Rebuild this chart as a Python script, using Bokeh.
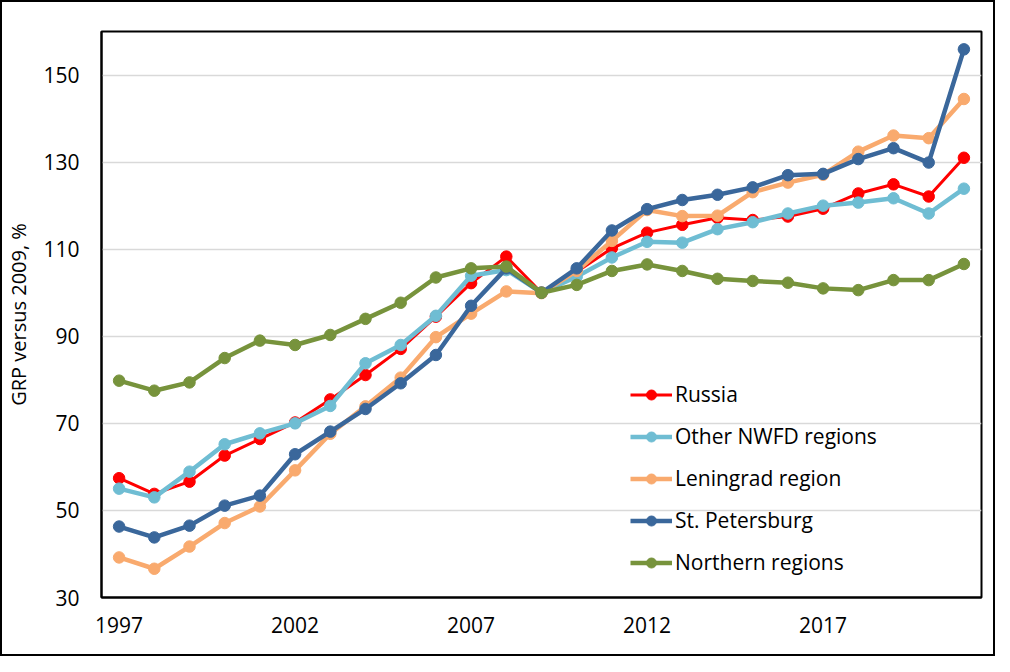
from bokeh.plotting import figure
from bokeh.models import Range1d, FixedTicker, Legend, LegendItem
from bokeh.embed import file_html
from bokeh.resources import INLINE

years = list(range(1997, 2022))

russia = [57.4, 53.8, 56.6, 62.6, 66.4, 70.2, 75.5, 81.1, 87.1, 94.5, 102.2, 108.3, 100.0,
          104.8, 110.2, 113.8, 115.6, 117.2, 116.7, 117.5, 119.3, 122.8, 124.9, 122.1, 131.0]
other_nwfd = [55.0, 53.0, 58.9, 65.2, 67.7, 70.0, 74.0, 83.8, 88.0, 94.7, 103.9, 105.2, 100.0,
              103.7, 108.1, 111.7, 111.5, 114.6, 116.2, 118.2, 120.0, 120.7, 121.7, 118.2, 123.9]
leningrad = [39.2, 36.6, 41.7, 47.1, 50.9, 59.2, 67.6, 73.9, 80.5, 89.8, 95.2, 100.3, 99.9,
             105.0, 111.9, 119.0, 117.6, 117.7, 123.1, 125.3, 127.1, 132.4, 136.1, 135.5, 144.5]
st_petersburg = [46.3, 43.8, 46.5, 51.1, 53.4, 62.9, 68.1, 73.3, 79.2, 85.7, 97.0, 105.6, 100.0,
                 105.6, 114.3, 119.2, 121.3, 122.5, 124.2, 127.0, 127.3, 130.7, 133.2, 129.9, 155.9]
northern = [79.8, 77.5, 79.4, 85.0, 89.0, 88.0, 90.3, 94.0, 97.7, 103.5, 105.6, 106.0, 100.0,
            101.8, 105.0, 106.5, 105.0, 103.2, 102.7, 102.3, 101.0, 100.6, 102.9, 102.9, 106.6]

series_names = ["Russia", "Other NWFD regions", "Leningrad region", "St. Petersburg", "Northern regions"]
series_values = [russia, other_nwfd, leningrad, st_petersburg, northern]
series_colors = ["#FF0000", "#6FBDD3", "#F9AA6E", "#3A679B", "#77933C"]
series_widths = [3, 4.5, 4.5, 4.5, 4.5]

x_ticks = [1997, 2002, 2007, 2012, 2017]
y_ticks = [30, 50, 70, 90, 110, 130, 150]

FONT = "Open Sans"

p = figure(frame_width=880, frame_height=566,
           min_border_left=98, min_border_top=29, min_border_right=12, min_border_bottom=57,
           x_range=Range1d(1996.5, 2021.5), y_range=Range1d(30, 160),
           output_backend="svg", toolbar_location=None, tools="")
p.styles = {"border": "2px solid black"}

p.outline_line_color = "black"
p.outline_line_width = 2
p.xgrid.grid_line_color = None
p.ygrid.grid_line_color = "#D9D9D9"
p.ygrid.grid_line_width = 1.5

p.xaxis.ticker = FixedTicker(ticks=x_ticks)
p.yaxis.ticker = FixedTicker(ticks=y_ticks)
for ax in (p.xaxis, p.yaxis):
    ax.major_tick_line_color = None
    ax.minor_tick_line_color = None
    ax.major_tick_out = 0
    ax.major_tick_in = 0
    ax.axis_line_color = "black"
    ax.axis_line_width = 2
    ax.major_label_text_font = FONT
    ax.major_label_text_font_size = "21px"
    ax.major_label_text_color = "black"
p.xaxis.major_label_standoff = 19
p.yaxis.major_label_standoff = 22
p.yaxis.axis_label = "GRP versus 2009, %"
p.yaxis.axis_label_text_font = FONT
p.yaxis.axis_label_text_font_size = "20px"
p.yaxis.axis_label_text_font_style = "normal"
p.yaxis.axis_label_text_color = "black"
p.yaxis.axis_label_standoff = 8

items = []
for name, vals, col, lw in zip(series_names, series_values, series_colors, series_widths):
    lr = p.line(years, vals, line_color=col, line_width=lw)
    sr = p.scatter(years, vals, size=11.5, fill_color=col, line_color=col, line_width=1)
    items.append(LegendItem(label=name, renderers=[lr, sr]))

legend = Legend(items=items, location=(529, 14), padding=0, margin=0, spacing=0,
                glyph_width=42, glyph_height=25, label_height=42, label_standoff=3,
                label_text_font=FONT, label_text_font_size="21px", label_text_color="black",
                border_line_color=None, background_fill_alpha=0)
p.add_layout(legend, "center")

open("out.html", "w").write(file_html(p, INLINE))
